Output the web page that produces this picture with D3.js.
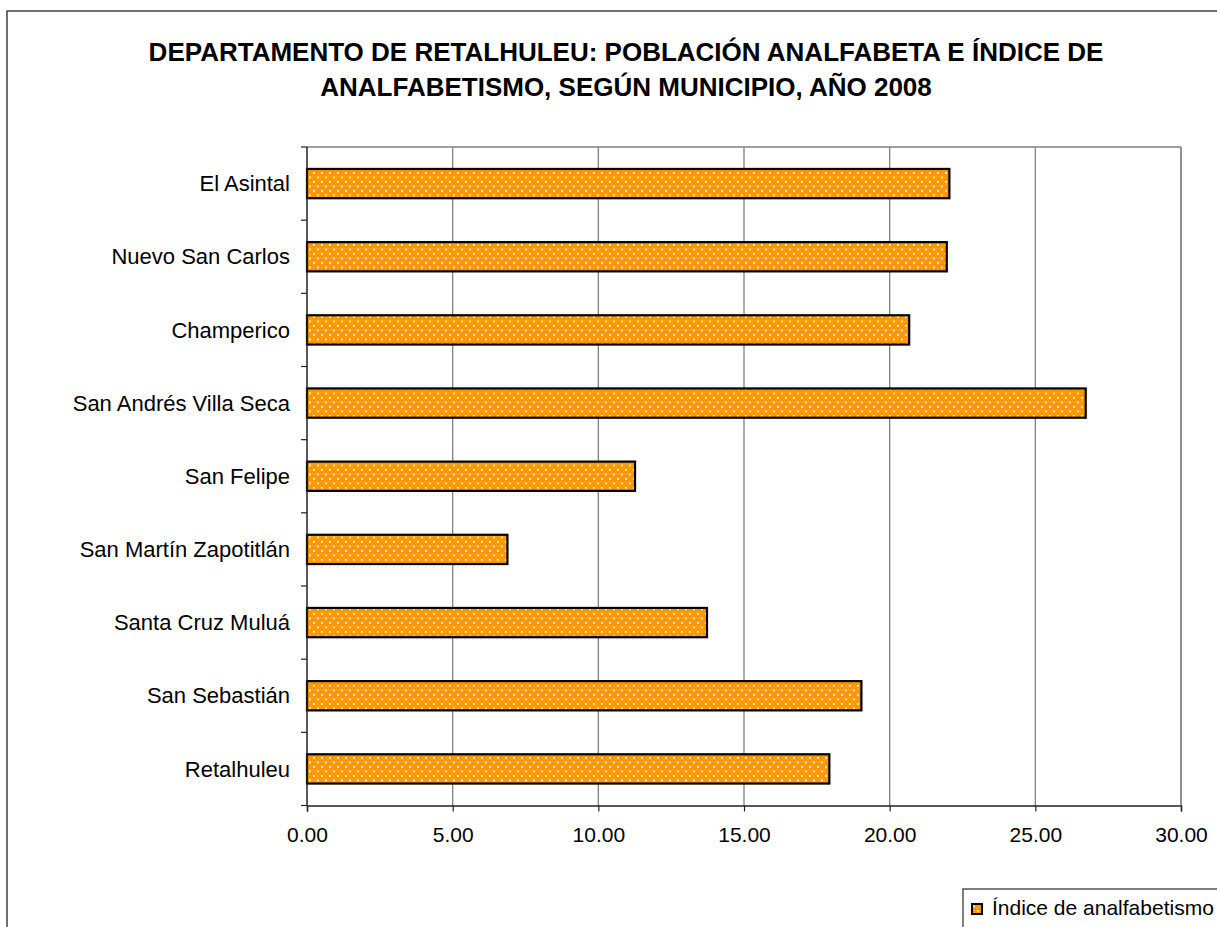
<!DOCTYPE html>
<html><head><meta charset="utf-8">
<script src="https://cdn.jsdelivr.net/npm/d3@7"></script>
<style>
html,body{margin:0;padding:0;background:#fff;}
svg{display:block;}
text{font-family:"Liberation Sans",Arial,sans-serif;fill:#000;}
</style></head>
<body>
<svg id="chart" width="1217" height="927"></svg>
<script>
const titleLines = ["DEPARTAMENTO DE RETALHULEU: POBLACIÓN ANALFABETA E ÍNDICE DE",
                    "ANALFABETISMO, SEGÚN MUNICIPIO, AÑO 2008"];
const municipios = ["El Asintal","Nuevo San Carlos","Champerico","San Andrés Villa Seca",
                    "San Felipe","San Martín Zapotitlán","Santa Cruz Muluá","San Sebastián","Retalhuleu"];
const indice = [22.05, 21.96, 20.67, 26.73, 11.26, 6.88, 13.73, 19.03, 17.93];
const xTicks = [0,5,10,15,20,25,30];
const legendLabel = "Índice de analfabetismo";

(function(){
const data = municipios.map((m,i)=>({m, v:indice[i]}));
const svg = d3.select("#chart");
const W=1217, H=927;
const pL=307, pR=1181, pT=147, pB=805.5;

// pattern
const defs = svg.append("defs");
const pat = defs.append("pattern").attr("id","dots").attr("patternUnits","userSpaceOnUse")
  .attr("width",8).attr("height",9);
pat.append("rect").attr("width",8).attr("height",9).attr("fill","#FF9900");
pat.append("rect").attr("x",1).attr("y",1).attr("width",1.8).attr("height",1.8).attr("fill","#FFF3DD");
pat.append("rect").attr("x",5).attr("y",5.5).attr("width",1.8).attr("height",1.8).attr("fill","#FFF3DD");

// outer border
svg.append("rect").attr("x",7).attr("y",11).attr("width",W+20).attr("height",H+20)
  .attr("fill","none").attr("stroke","#404040").attr("stroke-width",1.5);

// title
svg.append("text").attr("text-anchor","middle")
  .style("font-weight","bold").style("font-size","26px")
  .selectAll("tspan").data(titleLines).join("tspan")
  .attr("x",626).attr("y",(d,i)=>61+i*35).text(d=>d);

const x = d3.scaleLinear().domain([0,30]).range([pL,pR]);
const y = d3.scaleBand().domain(municipios).range([pT,pB]).paddingInner(0.6).paddingOuter(0.3);

// gridlines
svg.append("g").selectAll("line").data(xTicks.filter(t=>t>0)).join("line")
  .attr("x1",d=>x(d)).attr("x2",d=>x(d)).attr("y1",pT).attr("y2",pB)
  .attr("stroke","#808080").attr("stroke-width",1.3);
svg.append("line").attr("x1",pL).attr("x2",pR).attr("y1",pT).attr("y2",pT)
  .attr("stroke","#808080").attr("stroke-width",1.3);

// bars
svg.append("g").selectAll("rect").data(data).join("rect")
  .attr("x",x(0)).attr("y",d=>y(d.m))
  .attr("width",d=>x(d.v)-x(0)).attr("height",y.bandwidth())
  .attr("fill","url(#dots)").attr("stroke","#000").attr("stroke-width",2.2);

// x axis
const xAxis = d3.axisBottom(x).tickValues(xTicks).tickFormat(d3.format(".2f")).tickSize(6).tickPadding(16);
const gx = svg.append("g").attr("transform",`translate(0,${pB})`).call(xAxis);
gx.select(".domain").attr("stroke","#222").attr("stroke-width",1.5);
gx.selectAll(".tick line").attr("stroke","#222").attr("stroke-width",1.2);
gx.selectAll(".tick text").style("font-size","21px").style("font-family","'Liberation Sans',Arial,sans-serif").attr("fill","#000");

// y axis
const gy = svg.append("g");
gy.append("line").attr("x1",pL).attr("x2",pL).attr("y1",pT).attr("y2",pB)
  .attr("stroke","#222").attr("stroke-width",1.5);
const bounds = d3.range(municipios.length+1).map(i=>pT + i*(pB-pT)/municipios.length);
gy.selectAll("line.tk").data(bounds).join("line").attr("class","tk")
  .attr("x1",pL-6).attr("x2",pL).attr("y1",d=>d).attr("y2",d=>d)
  .attr("stroke","#222").attr("stroke-width",1.2);
gy.selectAll("text").data(municipios).join("text")
  .attr("x",290).attr("y",d=>y(d)+y.bandwidth()/2).attr("dy","0.35em")
  .attr("text-anchor","end").style("font-size","22px").text(d=>d);

svg.append("line").attr("x1",pR).attr("x2",pR).attr("y1",pT).attr("y2",pB)
  .attr("stroke","#808080").attr("stroke-width",1.3);

// legend
const lg = svg.append("g");
lg.append("rect").attr("x",963).attr("y",889).attr("width",300).attr("height",100)
  .attr("fill","#fff").attr("stroke","#555").attr("stroke-width",1.5);
lg.append("rect").attr("x",972).attr("y",904).attr("width",10).attr("height",10)
  .attr("fill","url(#dots)").attr("stroke","#000").attr("stroke-width",2);
lg.append("text").attr("x",992).attr("y",915).style("font-size","21px").text(legendLabel);
})();
</script>
</body></html>
